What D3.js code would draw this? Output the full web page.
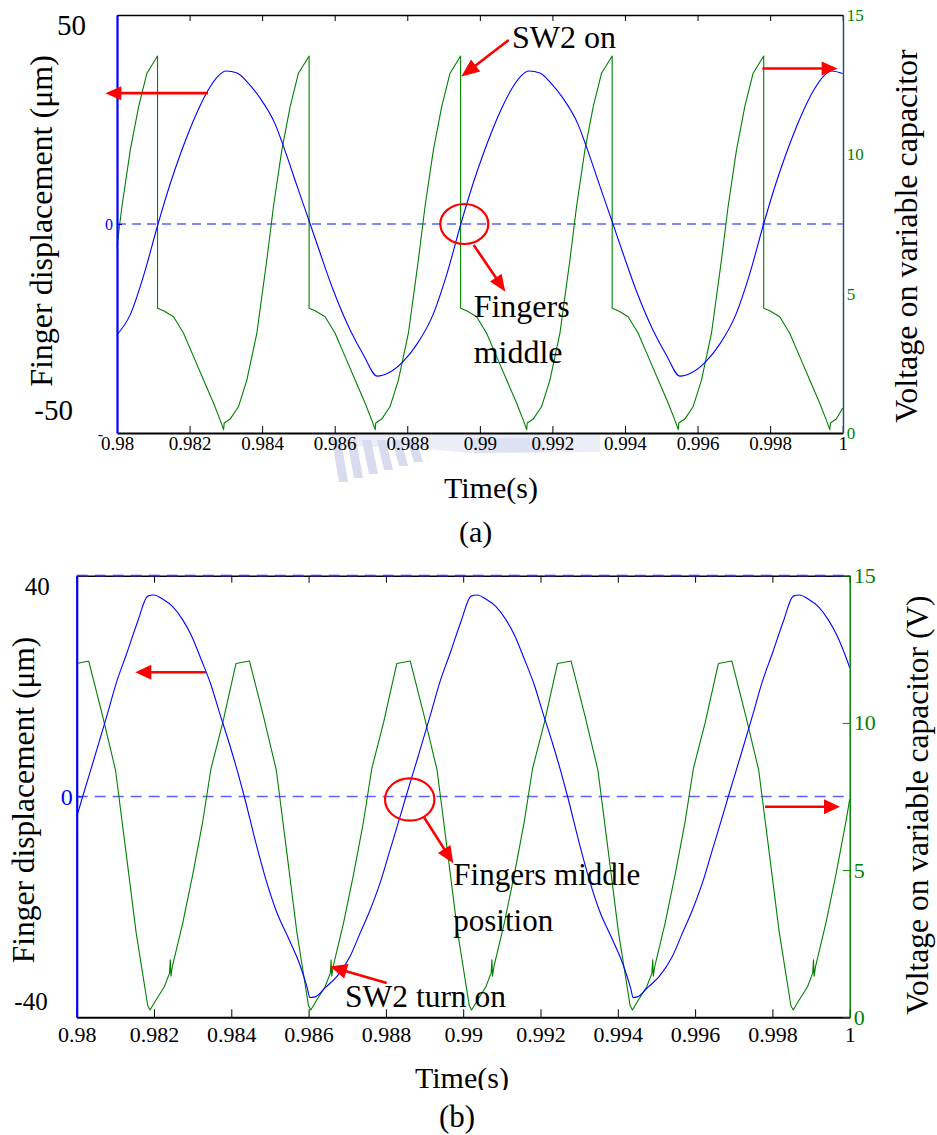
<!DOCTYPE html>
<html><head><meta charset="utf-8">
<script src="https://cdn.jsdelivr.net/npm/d3@7"></script>
<style>
html,body{margin:0;padding:0;background:#fff;}
svg{display:block;}
text{font-family:"Liberation Serif","Times New Roman",serif;}
</style>
</head><body>
<svg id="c" width="937" height="1135"></svg>
<script>
// ---------- tick data ----------
const xTickValues = [0.98,0.982,0.984,0.986,0.988,0.99,0.992,0.994,0.996,0.998,1];
const xTickLabels = ["0.98","0.982","0.984","0.986","0.988","0.99","0.992","0.994","0.996","0.998","1"];
const rightTickValues = [0,5,10,15];
const rightTickLabels = ["0","5","10","15"];

// ---------- panel (a) : finger displacement (um) ----------
const timeDispA = [0.980000,0.980359,0.980745,0.981131,0.981462,0.981738,0.982014,0.982290,0.982538,0.982786,0.983007,0.983310,0.983614,0.983945,0.984359,0.984579,0.984966,0.985324,0.985600,0.985959,0.986428,0.986786,0.987173,
0.987490,0.987876,0.988262,0.988704,0.989090,0.989476,0.989807,0.990083,0.990359,0.990635,0.990883,0.991131,0.991352,0.991655,0.991959,0.992290,0.992704,0.992924,0.993311,0.993669,0.993945,0.994304,0.994773,0.995131,0.995518,
0.995835,0.996221,0.996607,0.997049,0.997435,0.997821,0.998152,0.998428,0.998704,0.998980,0.999228,0.999476,0.999697,1.000000];
const dispA = [-26.5,-21.8,-12.0,0.0,9.5,16.5,22.8,28.3,32.4,35.4,36.6,36.1,33.7,30.1,23.9,18.8,9.0,0.0,-7.0,-15.8,-25.4,-31.2,-36.4,
-35.6,-33.0,-28.8,-21.8,-12.0,0.0,9.5,16.5,22.8,28.3,32.4,35.4,36.6,36.1,33.7,30.1,23.9,18.8,9.0,0.0,-7.0,-15.8,-25.4,-31.2,-36.4,
-35.6,-33.0,-28.8,-21.8,-12.0,0.0,9.5,16.5,22.8,28.3,32.4,35.4,36.6,36.0];

// ---------- panel (a) : voltage on variable capacitor (V) ----------
const timeVoltA = [0.980000,0.980135,0.980367,0.980596,0.980825,
0.981117,0.981117,0.981283,0.981558,0.981834,0.982110,0.982386,0.982662,0.982841,0.982938,0.982954,0.983117,0.983346,0.983578,0.983854,0.984129,0.984311,0.984543,0.984772,0.985001,
0.985294,0.985294,0.985460,0.985735,0.986011,0.986287,0.986563,0.986839,0.987018,0.987115,0.987131,0.987294,0.987523,0.987755,0.988031,0.988306,0.988488,0.988720,0.988949,0.989178,
0.989470,0.989470,0.989636,0.989911,0.990187,0.990463,0.990739,0.991015,0.991194,0.991291,0.991307,0.991470,0.991699,0.991931,0.992207,0.992482,0.992664,0.992896,0.993125,0.993354,
0.993647,0.993647,0.993813,0.994088,0.994364,0.994640,0.994916,0.995192,0.995371,0.995468,0.995484,0.995647,0.995876,0.996108,0.996384,0.996659,0.996841,0.997073,0.997302,0.997531,
0.997823,0.997823,0.997989,0.998264,0.998540,0.998816,0.999092,0.999368,0.999547,0.999644,0.999660,0.999823,1.000000];
const voltA = [6.70,8.12,10.16,11.71,12.91,
13.53,4.48,4.39,4.17,3.58,2.74,1.90,1.07,0.47,0.12,0.36,0.50,0.94,1.90,3.58,6.21,8.12,10.16,11.71,12.91,
13.53,4.48,4.39,4.17,3.58,2.74,1.90,1.07,0.47,0.12,0.36,0.50,0.94,1.90,3.58,6.21,8.12,10.16,11.71,12.91,
13.53,4.48,4.39,4.17,3.58,2.74,1.90,1.07,0.47,0.12,0.36,0.50,0.94,1.90,3.58,6.21,8.12,10.16,11.71,12.91,
13.53,4.48,4.39,4.17,3.58,2.74,1.90,1.07,0.47,0.12,0.36,0.50,0.94,1.90,3.58,6.21,8.12,10.16,11.71,12.91,
13.53,4.48,4.39,4.17,3.58,2.74,1.90,1.07,0.47,0.12,0.36,0.50,0.90];

// ---------- panel (b) : finger displacement (um) ----------
const timeDispB = [0.980000,0.980155,0.980466,0.980776,0.981035,0.981294,0.981578,0.981837,0.981992,0.982241,0.982484,0.982743,0.982957,0.983216,0.983475,0.983690,0.983948,0.984166,0.984336,0.984639,0.984898,0.985156,0.985501,0.985759,0.985977,0.986028,
0.986166,0.986450,0.986735,0.987071,0.987330,0.987589,0.987848,0.988106,0.988365,0.988520,0.988831,0.989141,0.989400,0.989659,0.989943,0.990202,0.990357,0.990606,0.990849,0.991108,0.991322,0.991581,0.991840,0.992055,0.992313,0.992531,0.992701,0.993004,0.993263,0.993521,0.993866,0.994124,0.994342,0.994393,
0.994505,0.994789,0.995074,0.995410,0.995669,0.995928,0.996187,0.996445,0.996704,0.996859,0.997170,0.997480,0.997739,0.997998,0.998282,0.998541,0.998696,0.998945,0.999188,0.999447,0.999661,0.999920,1.000000];
const dispB = [-3.7,0.0,7.2,14.5,20.8,25.9,31.7,36.3,36.5,35.7,34.4,32.0,29.3,24.9,20.2,15.3,9.6,4.4,0.0,-8.5,-15.1,-20.6,-26.0,-30.2,-35.0,-36.4,
-36.3,-34.5,-32.6,-29.0,-24.8,-20.6,-15.7,-9.7,-3.7,0.0,7.2,14.5,20.8,25.9,31.7,36.3,36.5,35.7,34.4,32.0,29.3,24.9,20.2,15.3,9.6,4.4,0.0,-8.5,-15.1,-20.6,-26.0,-30.2,-35.0,-36.4,
-36.3,-34.5,-32.6,-29.0,-24.8,-20.6,-15.7,-9.7,-3.7,0.0,7.2,14.5,20.8,25.9,31.7,36.3,36.5,35.7,34.4,32.0,29.3,24.9,23.3];

// ---------- panel (b) : voltage on variable capacitor (V) ----------
const timeVoltB = [0.980000,0.980311,0.980668,0.981004,0.981276,0.981535,0.981837,0.981897,0.982052,0.982267,0.982402,0.982422,0.982438,0.982479,0.982743,0.983002,0.983261,0.983475,0.983778,0.984122,
0.984471,0.984828,0.985164,0.985436,0.985695,0.985997,0.986057,0.986212,0.986427,0.986562,0.986582,0.986598,0.986639,0.986903,0.987162,0.987421,0.987635,0.987938,0.988282,
0.988631,0.988988,0.989324,0.989596,0.989855,0.990157,0.990217,0.990372,0.990587,0.990722,0.990742,0.990758,0.990799,0.991063,0.991322,0.991581,0.991795,0.992098,0.992442,
0.992792,0.993149,0.993485,0.993757,0.994016,0.994318,0.994378,0.994533,0.994748,0.994883,0.994903,0.994919,0.994960,0.995224,0.995483,0.995742,0.995956,0.996259,0.996603,
0.996952,0.997309,0.997645,0.997917,0.998176,0.998478,0.998538,0.998693,0.998908,0.999043,0.999063,0.999079,0.999120,0.999384,0.999643,0.999902,1.000000];
const voltB = [12.02,12.10,10.25,8.40,5.60,2.90,0.40,0.25,0.59,1.04,1.50,1.95,1.40,1.75,3.20,4.85,6.65,8.45,10.00,12.02,
12.10,10.25,8.40,5.60,2.90,0.40,0.25,0.59,1.04,1.50,1.95,1.40,1.75,3.20,4.85,6.65,8.45,10.00,12.02,
12.10,10.25,8.40,5.60,2.90,0.40,0.25,0.59,1.04,1.50,1.95,1.40,1.75,3.20,4.85,6.65,8.45,10.00,12.02,
12.10,10.25,8.40,5.60,2.90,0.40,0.25,0.59,1.04,1.50,1.95,1.40,1.75,3.20,4.85,6.65,8.45,10.00,12.02,
12.10,10.25,8.40,5.60,2.90,0.40,0.25,0.59,1.04,1.50,1.95,1.40,1.75,3.20,4.85,6.65,7.40];

// ---------- drawing ----------
const BLUE = "#0000ff", GREEN = "#008000", RED = "#ff0000", DASH = "#5f5fff";
const svg = d3.select("#c");
svg.append("rect").attr("width",937).attr("height",1135).attr("fill","#fff");
const defs = svg.append("defs");

function arrow(g, x1, y1, x2, y2, L, hw) {
  const dx = x2 - x1, dy = y2 - y1, len = Math.hypot(dx, dy);
  const ux = dx / len, uy = dy / len, px = -uy, py = ux;
  const bx = x2 - ux * L, by = y2 - uy * L;
  g.append("line").attr("x1",x1).attr("y1",y1).attr("x2",bx+ux*2).attr("y2",by+uy*2)
    .attr("stroke",RED).attr("stroke-width",2.6);
  g.append("path").attr("d",`M${x2},${y2}L${bx+px*hw},${by+py*hw}L${bx-px*hw},${by-py*hw}Z`).attr("fill",RED);
}

function styleAxis(g, color, size, domainW) {
  g.attr("font-family",'"Liberation Serif","Times New Roman",serif').attr("font-size",size);
  g.selectAll("text").attr("fill",color);
  g.selectAll(".tick line").attr("stroke",color).attr("stroke-width",1);
  g.select(".domain").attr("stroke",color).attr("stroke-width",domainW);
}

// ================= PANEL (a) =================
const xA = d3.scaleLinear().domain([0.98,1]).range([117,842.7]);
const yLA = d3.scaleLinear().domain([-50,50]).range([433,15]);
const yRA = d3.scaleLinear().domain([0,15]).range([433,15]);
const gA = svg.append("g");

// faint watermark behind axis labels
const wm = gA.append("g").attr("opacity",0.5);
wm.append("path").attr("d","M328,434L600,434L600,452L470,453L420,448L330,446Z").attr("fill","#d8dcf0");
[0,1,2,3,4,5].forEach(i=>{
  const x0 = 332 + i*15;
  wm.append("path").attr("d",`M${x0},440L${x0+9},440L${x0+16},${482-i*4}L${x0+7},${482-i*4}Z`).attr("fill","#b3bade");
});
wm.append("path").attr("d","M470,438L540,438L545,452L475,453Z").attr("fill","#bfc5e4");

// zero dashed line
gA.append("line").attr("x1",xA(0.98)).attr("x2",xA(1)).attr("y1",yLA(0)).attr("y2",yLA(0))
  .attr("stroke",DASH).attr("stroke-width",1.7).attr("stroke-dasharray","9,6");

const lineDA = d3.line().x(d=>xA(d[0])).y(d=>yLA(d[1])).curve(d3.curveMonotoneX);
const lineVA = d3.line().x(d=>xA(d[0])).y(d=>yRA(d[1]));
gA.append("path").datum(d3.zip(timeVoltA, voltA)).attr("d",lineVA)
  .attr("fill","none").attr("stroke",GREEN).attr("stroke-width",1.1).attr("stroke-linejoin","round");
gA.append("path").datum(d3.zip(timeDispA, dispA)).attr("d",lineDA)
  .attr("fill","none").attr("stroke",BLUE).attr("stroke-width",1.1).attr("stroke-linejoin","round");

// axes
const axBA = gA.append("g").attr("transform",`translate(0,${yLA(-50)})`)
  .call(d3.axisBottom(xA).tickValues(xTickValues).tickFormat((d,i)=>xTickLabels[i]).tickSizeInner(-7).tickSizeOuter(0).tickPadding(4));
styleAxis(axBA,"#000",19,2);
const axTA = gA.append("g").attr("transform",`translate(0,${yLA(50)})`)
  .call(d3.axisTop(xA).tickValues(xTickValues).tickFormat("").tickSizeInner(-6).tickSizeOuter(0));
styleAxis(axTA,"#000",10,1.5);
const axLA = gA.append("g").attr("transform",`translate(${xA(0.98)},0)`)
  .call(d3.axisLeft(yLA).tickValues([0]).tickFormat(d=>String(d)).tickSizeInner(-5).tickSizeOuter(0).tickPadding(4));
styleAxis(axLA,BLUE,16,2.2);
defs.append("clipPath").attr("id","clipRA").append("rect").attr("x",0).attr("y",0).attr("width",860).attr("height",500);
const axRA = gA.append("g").attr("transform",`translate(${xA(1)},0)`).attr("clip-path","url(#clipRA)")
  .call(d3.axisRight(yRA).tickValues(rightTickValues).tickFormat((d,i)=>rightTickLabels[i]).tickSizeInner(-7).tickSizeOuter(0).tickPadding(4));
styleAxis(axRA,GREEN,17,2);
axRA.select(".domain").attr("stroke","#17506e");
gA.append("text").attr("x",xA(0.98)-14).attr("y",yLA(-50)+7).attr("fill",BLUE).attr("font-size",16).attr("text-anchor","end").text("-");

// overlaid black axis numbers
gA.append("text").attr("x",xA(0.98)-31).attr("y",yLA(50)+20).attr("font-size",29).attr("text-anchor","end").text("50");
gA.append("text").attr("x",xA(0.98)-44).attr("y",yLA(-50)-13).attr("font-size",29).attr("text-anchor","end").text("-50");

// axis titles
gA.append("text").attr("transform","translate(52,221) rotate(-90)").attr("text-anchor","middle").attr("font-size",32).text("Finger displacement (\u03bcm)");
gA.append("text").attr("transform","translate(917,236) rotate(-90)").attr("text-anchor","middle").attr("font-size",32).text("Voltage on variable capacitor");
gA.append("text").attr("x",444).attr("y",498).attr("font-size",30).text("Time(s)");
gA.append("text").attr("x",459).attr("y",542).attr("font-size",30).text("(a)");

// annotations (a) in data coordinates (time, displacement)
arrow(gA, xA(0.98251), yLA(31.3), xA(0.97968), yLA(31.3), 16, 7);
arrow(gA, xA(0.997785), yLA(37.2), xA(0.99986), yLA(37.2), 16, 7);
arrow(gA, xA(0.990794), yLA(44.0), xA(0.98949), yLA(35.3), 18, 7.5);
gA.append("text").attr("x",xA(0.990888)).attr("y",yLA(42.0)).attr("font-size",32).text("SW2 on");
gA.append("ellipse").attr("cx",xA(0.989572)).attr("cy",yLA(0)).attr("rx",24).attr("ry",20)
  .attr("fill","none").attr("stroke",RED).attr("stroke-width",2.2);
arrow(gA, xA(0.989829), yLA(-5.0), xA(0.990703), yLA(-16.2), 17, 7);
gA.append("text").attr("x",xA(0.989829)).attr("y",yLA(-22.2)).attr("font-size",32).text("Fingers");
gA.append("text").attr("x",xA(0.989829)).attr("y",yLA(-33.3)).attr("font-size",32).text("middle");

// ================= PANEL (b) =================
const xB = d3.scaleLinear().domain([0.98,1]).range([76.7,849.7]);
const yLB = d3.scaleLinear().domain([-40,40]).range([1017.3,575.7]);
const yRB = d3.scaleLinear().domain([0,15]).range([1017.3,575.7]);
const gB = svg.append("g");

gB.append("line").attr("x1",xB(0.98)).attr("x2",xB(1)).attr("y1",yLB(0)).attr("y2",yLB(0))
  .attr("stroke",DASH).attr("stroke-width",1.5).attr("stroke-dasharray","11,7");

const lineDB = d3.line().x(d=>xB(d[0])).y(d=>yLB(d[1])).curve(d3.curveMonotoneX);
const lineVB = d3.line().x(d=>xB(d[0])).y(d=>yRB(d[1]));
gB.append("path").datum(d3.zip(timeVoltB, voltB)).attr("d",lineVB)
  .attr("fill","none").attr("stroke",GREEN).attr("stroke-width",1.1).attr("stroke-linejoin","round");
gB.append("path").datum(d3.zip(timeDispB, dispB)).attr("d",lineDB)
  .attr("fill","none").attr("stroke",BLUE).attr("stroke-width",1.1).attr("stroke-linejoin","round");

const axBB = gB.append("g").attr("transform",`translate(0,${yLB(-40)})`)
  .call(d3.axisBottom(xB).tickValues(xTickValues).tickFormat((d,i)=>xTickLabels[i]).tickSizeInner(-8).tickSizeOuter(0).tickPadding(9));
styleAxis(axBB,"#000",22,2);
const axTB = gB.append("g").attr("transform",`translate(0,${yLB(40)})`)
  .call(d3.axisTop(xB).tickValues(xTickValues).tickFormat("").tickSizeInner(-7).tickSizeOuter(0));
styleAxis(axTB,"#000",10,1.5);
gB.append("line").attr("x1",xB(0.98)).attr("x2",xB(1)).attr("y1",yLB(40)).attr("y2",yLB(40))
  .attr("stroke","#3535ff").attr("stroke-width",1.8).attr("stroke-dasharray","11,7");
const axLB = gB.append("g").attr("transform",`translate(${xB(0.98)},0)`)
  .call(d3.axisLeft(yLB).tickValues([0]).tickFormat(d=>String(d)).tickSizeInner(-5).tickSizeOuter(0).tickPadding(4));
styleAxis(axLB,BLUE,24,2.2);
const axRB = gB.append("g").attr("transform",`translate(${xB(1)},0)`)
  .call(d3.axisRight(yRB).tickValues(rightTickValues).tickFormat((d,i)=>rightTickLabels[i]).tickSizeInner(-7).tickSizeOuter(0).tickPadding(4));
styleAxis(axRB,GREEN,22,1.5);

gB.append("text").attr("x",xB(0.98)-27).attr("y",yLB(40)+19).attr("font-size",25).attr("text-anchor","end").text("40");
gB.append("text").attr("x",xB(0.98)-29).attr("y",yLB(-40)-7).attr("font-size",25).attr("text-anchor","end").text("-40");

gB.append("text").attr("transform","translate(34,800) rotate(-90)").attr("text-anchor","middle").attr("font-size",31.5).text("Finger displacement (\u03bcm)");
gB.append("text").attr("transform","translate(928,805) rotate(-90)").attr("text-anchor","middle").attr("font-size",31.5).text("Voltage on variable capacitor (V)");
defs.append("clipPath").attr("id","clipT").append("rect").attr("x",0).attr("y",0).attr("width",937).attr("height",1090);
gB.append("text").attr("x",415).attr("y",1088).attr("font-size",30).attr("clip-path","url(#clipT)").text("Time(s)");
gB.append("text").attr("x",439).attr("y",1127).attr("font-size",31).text("(b)");

// annotations (b)
arrow(gB, xB(0.983345), yLB(22.5), xB(0.981516), yLB(22.5), 16, 7.5);
arrow(gB, xB(0.997809), yLB(-1.85), xB(0.999749), yLB(-1.85), 16, 7.5);
gB.append("ellipse").attr("cx",xB(0.988616)).attr("cy",yLB(-0.54)).attr("rx",24.7).attr("ry",21.2)
  .attr("fill","none").attr("stroke",RED).attr("stroke-width",2.2);
arrow(gB, xB(0.988986), yLB(-3.77), xB(0.989744), yLB(-12.1), 17, 7.5);
gB.append("text").attr("x",xB(0.989744)).attr("y",yLB(-16.0)).attr("font-size",31).text("Fingers middle");
gB.append("text").attr("x",xB(0.989744)).attr("y",yLB(-24.3)).attr("font-size",31).text("position");
arrow(gB, xB(0.988021), yLB(-33.8), xB(0.986554), yLB(-30.8), 17, 7.5);
gB.append("text").attr("x",xB(0.986942)).attr("y",yLB(-38.1)).attr("font-size",31.5).text("SW2 turn on");
</script>
</body></html>
